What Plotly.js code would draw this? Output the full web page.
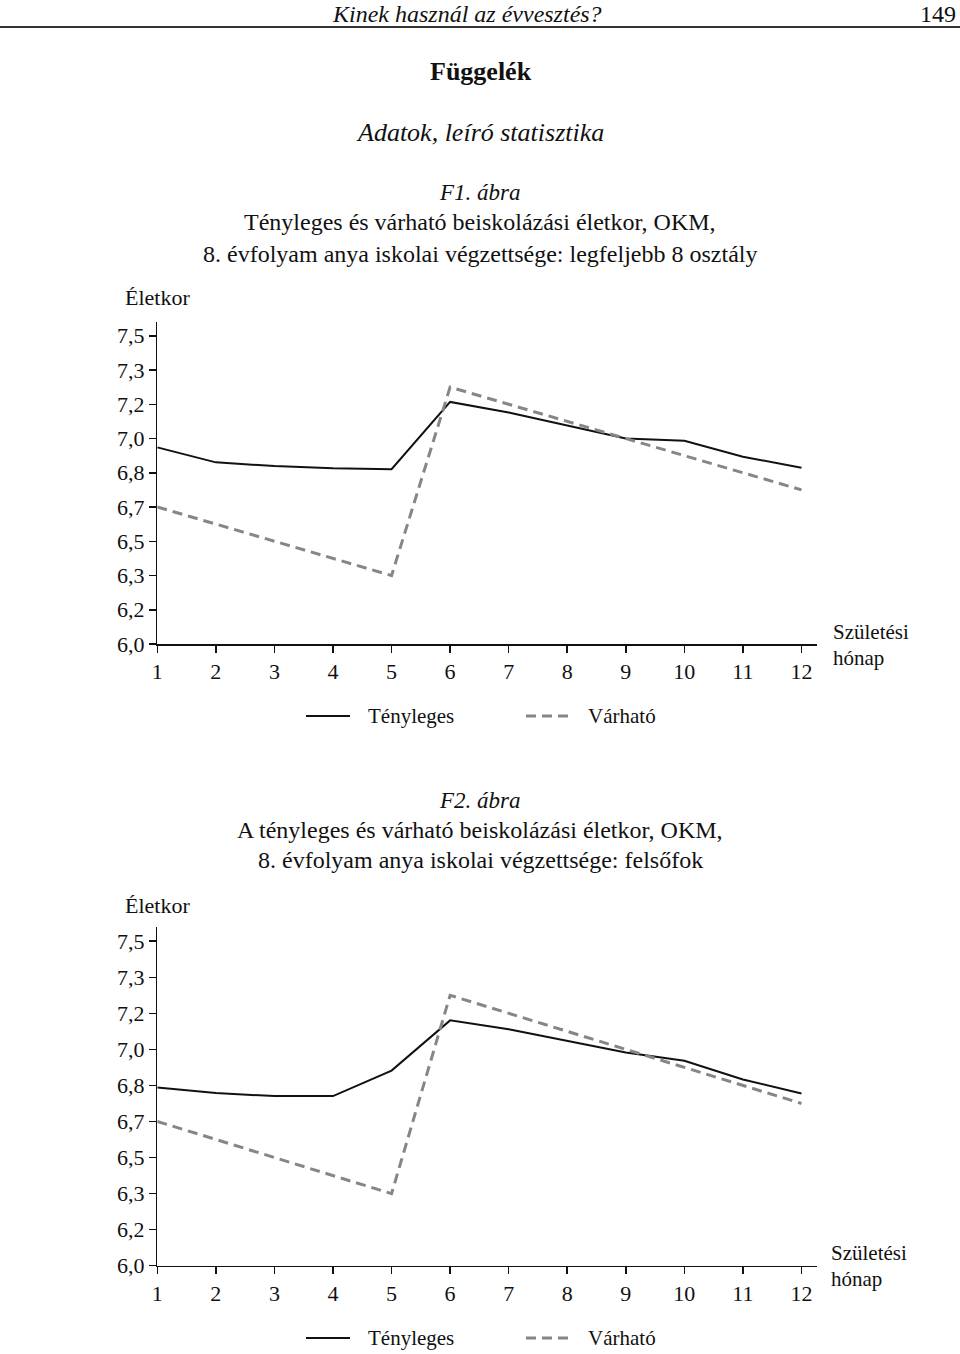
<!DOCTYPE html>
<html>
<head>
<meta charset="utf-8">
<script src="https://cdn.plot.ly/plotly-3.0.1.min.js"></script>
<style>
  html, body { margin: 0; padding: 0; background: #fff; }
  #chart { width: 960px; height: 1354px; }
</style>
</head>
<body>
<div id="chart"></div>
<script>
// Születési hónap (birth month)
const months = [1, 2, 3, 4, 5, 6, 7, 8, 9, 10, 11, 12];

// F1: anya legfeljebb 8 osztály
const f1Actual   = [6.957, 6.884, 6.866, 6.855, 6.851, 7.178, 7.127, 7.065, 7.000, 6.989, 6.911, 6.858];
const f1Expected = [6.667, 6.583, 6.500, 6.417, 6.333, 7.250, 7.167, 7.083, 7.000, 6.917, 6.833, 6.750];

// F2: anya felsőfok
const f2Actual   = [6.824, 6.798, 6.784, 6.784, 6.902, 7.134, 7.093, 7.039, 6.986, 6.947, 6.861, 6.796];
const f2Expected = [6.667, 6.583, 6.500, 6.417, 6.333, 7.250, 7.167, 7.083, 7.000, 6.917, 6.833, 6.750];

// y ticks every two months (1/6 year), labelled rounded to one decimal
const yTickVals = [6.0, 6.1667, 6.3333, 6.5, 6.6667, 6.8333, 7.0, 7.1667, 7.3333, 7.5];
const yTickText = ['6,0', '6,2', '6,3', '6,5', '6,7', '6,8', '7,0', '7,2', '7,3', '7,5'];

const seriesNames = ['Tényleges', 'Várható'];

const W = 960, H = 1354;
const FONT = 'Liberation Serif, Times New Roman, serif';
// pixel -> paper helpers
const px = x => x / W;
const py = y => 1 - y / H;

const solid = { color: '#111111', width: 2 };
const dashed = { color: '#868686', width: 3, dash: '10px,6px' };

const traces = [
  { x: months, y: f1Actual, type: 'scatter', mode: 'lines', name: seriesNames[0],
    line: solid, xaxis: 'x', yaxis: 'y' },
  { x: months, y: f1Expected, type: 'scatter', mode: 'lines', name: seriesNames[1],
    line: dashed, xaxis: 'x', yaxis: 'y' },
  { x: months, y: f2Actual, type: 'scatter', mode: 'lines', name: seriesNames[0],
    line: solid, xaxis: 'x2', yaxis: 'y2' },
  { x: months, y: f2Expected, type: 'scatter', mode: 'lines', name: seriesNames[1],
    line: dashed, xaxis: 'x2', yaxis: 'y2' }
];

const xDomain = [px(157.3), px(816.7)];

function xAxis(anchor) {
  return {
    domain: xDomain, anchor: anchor,
    range: [1, 12.26], tickvals: months,
    showline: true, linecolor: '#111', linewidth: 1.5,
    ticks: 'outside', ticklen: 7, tickwidth: 1.5, tickcolor: '#111',
    showgrid: false, zeroline: false,
    tickfont: { family: FONT, size: 22, color: '#111' }
  };
}
function yAxis(anchor, domain) {
  return {
    domain: domain, anchor: anchor,
    range: [6.0, 7.567], tickvals: yTickVals, ticktext: yTickText,
    showline: true, linecolor: '#111', linewidth: 1.5,
    ticks: 'outside', ticklen: 7, tickwidth: 1.5, tickcolor: '#111',
    showgrid: false, zeroline: false,
    tickfont: { family: FONT, size: 22, color: '#111' }
  };
}

function note(text, x, y, size, opts) {
  return Object.assign({
    text: text, xref: 'paper', yref: 'paper', x: px(x), y: py(y),
    xanchor: 'center', yanchor: 'middle', showarrow: false,
    font: { family: FONT, size: size, color: '#111' }
  }, opts || {});
}

// x axis title, two lines stacked on either side of the axis level
function axisName(x, y) {
  return [
    note('Születési', x, y, 21, { xanchor: 'left', yanchor: 'bottom', borderpad: 0 }),
    note('hónap', x, y, 21, { xanchor: 'left', yanchor: 'top', borderpad: 0 })
  ];
}

// legend drawn as key lines + labels under each chart
function legendKeys(y) {
  return [
    { type: 'line', xref: 'paper', yref: 'paper', x0: px(306), x1: px(350), y0: py(y), y1: py(y), line: solid },
    { type: 'line', xref: 'paper', yref: 'paper', x0: px(526), x1: px(570), y0: py(y), y1: py(y), line: dashed }
  ];
}
function legendLabels(y) {
  return [
    note(seriesNames[0], 366, y, 21, { xanchor: 'left' }),
    note(seriesNames[1], 586, y, 21, { xanchor: 'left' })
  ];
}

const annotations = [
  note('<i>Kinek használ az évvesztés?</i>', 467, 14, 24),
  note('149', 958, 14, 24, { xanchor: 'right' }),
  note('<b>Függelék</b>', 481, 72, 26),
  note('<i>Adatok, leíró statisztika</i>', 480, 133, 26),

  note('<i>F1. ábra</i>', 480, 192, 23),
  note('Tényleges és várható beiskolázási életkor, OKM,', 480, 222, 24),
  note('8. évfolyam anya iskolai végzettsége: legfeljebb 8 osztály', 480, 254, 24),
  note('Életkor', 157, 298, 22),

  note('<i>F2. ábra</i>', 480, 800, 23),
  note('A tényleges és várható beiskolázási életkor, OKM,', 480, 830, 24),
  note('8. évfolyam anya iskolai végzettsége: felsőfok', 480, 860, 24),
  note('Életkor', 157, 905, 22)
].concat(axisName(832, 645), axisName(830, 1266), legendLabels(716), legendLabels(1338));

const layout = {
  width: W, height: H,
  margin: { l: 0, r: 0, t: 0, b: 0 },
  paper_bgcolor: '#fff', plot_bgcolor: '#fff',
  font: { family: FONT, color: '#111' },
  showlegend: false,
  xaxis: xAxis('y'),
  yaxis: yAxis('x', [py(644), py(322)]),
  xaxis2: xAxis('y2'),
  yaxis2: yAxis('x2', [py(1265.7), py(926.7)]),
  annotations: annotations,
  shapes: [
    { type: 'line', xref: 'paper', yref: 'paper', x0: 0, x1: 1, y0: py(27), y1: py(27),
      line: { color: '#333', width: 2 } }
  ].concat(legendKeys(716), legendKeys(1338))
};

Plotly.newPlot('chart', traces, layout, { staticPlot: true, displayModeBar: false });
</script>
</body>
</html>
